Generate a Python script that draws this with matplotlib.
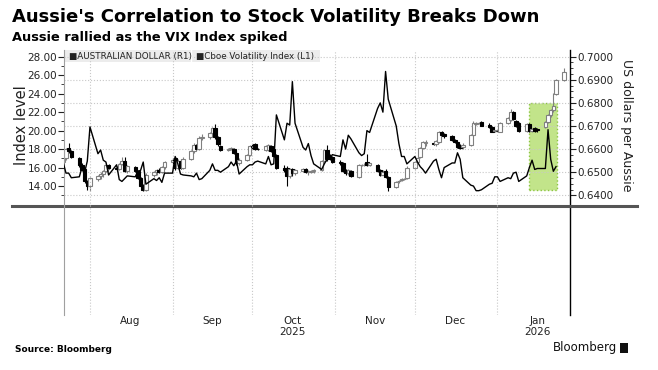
import matplotlib
matplotlib.use("Agg")
import matplotlib.pyplot as plt
import matplotlib.dates as mdates
from matplotlib.patches import Rectangle
from matplotlib.lines import Line2D
from matplotlib.ticker import FixedLocator, FuncFormatter
import pandas as pd

TITLE = "Aussie's Correlation to Stock Volatility Breaks Down"
SUBTITLE = "Aussie rallied as the VIX Index spiked"
LEFT_LABEL = "Index level"
RIGHT_LABEL = "US dollars per Aussie"
LEGEND_LABELS = ["AUSTRALIAN DOLLAR (R1)", "Cboe Volatility Index (L1)"]
MONTH_LABELS = ["Aug", "Sep", "Oct\n2025", "Nov", "Dec", "Jan\n2026"]

# trading days, AUD runs one session longer than VIX
AUD_START, AUD_END = "2025-07-22", "2026-01-26"
VIX_END = "2026-01-23"

# AUD/USD daily candles, one line per week
aud_open = [
    .6545, .6560, .6604, .6590,
    .6560, .6530, .6512, .6460, .6440,
    .6470, .6485, .6492, .6505, .6530,
    .6520, .6512, .6535, .6548, .6505,
    .6522, .6505, .6475, .6440, .6425,
    .6490, .6500, .6508, .6502, .6522,
    .6545, .6560, .6518, .6550, .6520,
    .6558, .6590, .6618, .6600, .6648,
    .6652, .6670, .6690, .6652, .6615,
    .6598, .6600, .6600, .6585, .6540,
    .6552, .6575, .6612, .6620, .6602,
    .6598, .6595, .6615, .6600, .6575,
    .6520, .6520, .6482, .6512, .6495,
    .6505, .6515, .6500, .6502, .6505,
    .6508, .6550, .6596, .6572, .6565,
    .6545, .6540, .6510, .6497, .6506,
    .6480, .6530, .6531, .6545, .6532,
    .6531, .6510, .6490, .6506, .6479,
    .6436, .6460, .6466, .6470, .6475,
    .6520, .6545, .6566, .6604, .6625,
    .6625, .6622, .6632, .6674, .6665,
    .6657, .6640, .6630, .6610, .6608,
    .6618, .6660, .6708, .6712, .6718,
    .6705, .6696, .6680,
    .6678, .6676,
    .6713, .6726, .6760, .6722, .6712,
    .6680, .6710, .6680, .6690, .6688,
    .6697, .6717, .6747, .6768, .6840,
    .6900,
]
aud_high = [
    .6565, .6605, .6625, .6596,
    .6565, .6540, .6520, .6468, .6480,
    .6490, .6500, .6510, .6540, .6535,
    .6528, .6540, .6565, .6568, .6530,
    .6528, .6510, .6480, .6450, .6495,
    .6505, .6512, .6520, .6528, .6550,
    .6560, .6565, .6558, .6556, .6565,
    .6595, .6625, .6622, .6655, .6665,
    .6675, .6695, .6708, .6658, .6618,
    .6605, .6610, .6605, .6590, .6560,
    .6580, .6618, .6620, .6625, .6606,
    .6618, .6620, .6618, .6602, .6580,
    .6530, .6525, .6518, .6520, .6515,
    .6520, .6518, .6508, .6510, .6512,
    .6555, .6600, .6618, .6580, .6570,
    .6552, .6545, .6515, .6512, .6510,
    .6535, .6536, .6538, .6578, .6542,
    .6535, .6515, .6508, .6512, .6482,
    .6462, .6468, .6474, .6476, .6525,
    .6550, .6565, .6610, .6635, .6638,
    .6630, .6640, .6680, .6680, .6670,
    .6662, .6645, .6636, .6620, .6625,
    .6665, .6720, .6718, .6716, .6722,
    .6712, .6700, .6684,
    .6682, .6716,
    .6738, .6772, .6765, .6728, .6716,
    .6714, .6714, .6692, .6694, .6692,
    .6720, .6750, .6772, .6845, .6905,
    .6952,
]
aud_low = [
    .6538, .6555, .6585, .6560,
    .6522, .6505, .6455, .6425, .6420,
    .6462, .6470, .6480, .6500, .6512,
    .6505, .6508, .6530, .6500, .6498,
    .6500, .6470, .6435, .6418, .6420,
    .6480, .6488, .6495, .6498, .6515,
    .6540, .6510, .6512, .6512, .6515,
    .6552, .6585, .6595, .6595, .6640,
    .6645, .6665, .6645, .6615, .6592,
    .6590, .6595, .6580, .6530, .6532,
    .6548, .6570, .6600, .6598, .6595,
    .6592, .6592, .6588, .6565, .6515,
    .6500, .6440, .6475, .6485, .6490,
    .6500, .6495, .6490, .6495, .6498,
    .6505, .6545, .6550, .6555, .6540,
    .6530, .6500, .6490, .6490, .6480,
    .6475, .6525, .6525, .6528, .6528,
    .6500, .6485, .6486, .6475, .6420,
    .6430, .6455, .6460, .6465, .6470,
    .6515, .6540, .6560, .6600, .6615,
    .6618, .6615, .6628, .6655, .6650,
    .6635, .6625, .6605, .6600, .6602,
    .6612, .6655, .6705, .6708, .6698,
    .6690, .6672, .6676,
    .6674, .6672,
    .6708, .6722, .6725, .6696, .6676,
    .6676, .6676, .6676, .6674, .6676,
    .6692, .6712, .6740, .6762, .6835,
    .6895,
]
aud_close = [
    .6560, .6600, .6590, .6565,
    .6530, .6510, .6462, .6440, .6475,
    .6485, .6492, .6505, .6530, .6520,
    .6512, .6535, .6548, .6505, .6525,
    .6505, .6475, .6440, .6425, .6490,
    .6500, .6508, .6502, .6522, .6545,
    .6552, .6518, .6550, .6520, .6558,
    .6590, .6618, .6600, .6648, .6652,
    .6670, .6690, .6652, .6620, .6598,
    .6600, .6603, .6585, .6540, .6552,
    .6575, .6612, .6608, .6602, .6600,
    .6615, .6618, .6592, .6570, .6520,
    .6508, .6482, .6512, .6495, .6510,
    .6515, .6500, .6502, .6505, .6508,
    .6550, .6596, .6558, .6560, .6545,
    .6538, .6506, .6497, .6508, .6485,
    .6530, .6531, .6533, .6532, .6538,
    .6506, .6490, .6503, .6480, .6436,
    .6457, .6463, .6470, .6472, .6520,
    .6545, .6560, .6604, .6630, .6632,
    .6622, .6635, .6674, .6660, .6655,
    .6640, .6630, .6610, .6605, .6618,
    .6660, .6715, .6714, .6712, .6702,
    .6694, .6676, .6680,
    .6677, .6713,
    .6735, .6760, .6730, .6700, .6680,
    .6710, .6680, .6688, .6678, .6681,
    .6717, .6747, .6769, .6785, .6900,
    .6935,
]

# Cboe VIX daily close
vix_close = [
    16.5, 15.4, 15.4, 14.9,
    15.0, 16.0, 15.5, 16.7, 20.4,
    17.5, 17.9, 16.8, 16.6, 15.2,
    16.3, 14.7, 14.5, 14.8, 15.1,
    15.0, 15.6, 15.7, 16.6, 14.2,
    14.8, 14.6, 14.9, 14.4, 15.4,
    15.4, 17.2, 16.4, 15.3, 15.2,
    15.1, 15.0, 15.4, 14.7, 14.8,
    15.7, 16.4, 15.7, 15.7, 15.5,
    16.1, 16.6, 16.2, 16.7, 15.3,
    16.1, 16.3, 16.3, 16.6, 16.7,
    16.4, 17.2, 16.3, 16.4, 21.7,
    19.0, 20.8, 20.6, 25.3, 20.8,
    18.2, 17.9, 18.6, 17.3, 16.4,
    15.8, 16.4, 16.9, 16.9, 17.4,
    17.2, 19.0, 18.0, 19.5, 19.1,
    17.6, 17.3, 17.5, 20.0, 19.8,
    22.4, 23.0, 22.0, 26.4, 23.4,
    20.5, 18.6, 17.2, 17.2, 16.4,
    17.2, 16.6, 16.1, 15.8, 15.4,
    16.7, 16.9, 15.8, 14.9, 16.0,
    16.5, 16.5, 17.6, 16.9, 14.9,
    14.1, 14.0, 13.5, 13.5, 13.6,
    14.2, 14.3, 15.0,
    15.0, 14.5,
    14.9, 14.8, 15.4, 15.5, 14.5,
    15.1, 16.0, 16.8, 15.8, 15.9,
    15.9, 20.1, 16.9, 15.6, 16.1,
]

W, H = 658, 370


def fx(px):
    return px / W


def fy(py):
    return 1 - py / H


def main():
    aud_dates = pd.bdate_range(AUD_START, AUD_END)
    vix_dates = pd.bdate_range(AUD_START, VIX_END)
    xa = mdates.date2num(aud_dates.to_pydatetime())
    xv = mdates.date2num(vix_dates.to_pydatetime())

    fig = plt.figure(figsize=(W / 100, H / 100), dpi=100)
    fig.patch.set_facecolor("white")

    ax = fig.add_axes([fx(64), fy(315), fx(570) - fx(64), fy(50) - fy(315)])
    ax2 = ax.twinx()
    ax.set_zorder(2)
    ax2.set_zorder(1)
    ax.patch.set_visible(False)

    # axis ranges chosen so 13..28 / 0.64..0.70 fill the upper panel only
    ax.set_ylim(0.045, 28.725)
    ax2.set_ylim(0.5882, 0.7029)
    x0 = mdates.date2num(pd.Timestamp("2025-07-22 06:00"))
    x1 = mdates.date2num(pd.Timestamp("2026-01-28 06:00"))
    ax.set_xlim(x0, x1)

    # highlight box behind the data
    bx0 = mdates.date2num(pd.Timestamp("2026-01-13"))
    bx1 = mdates.date2num(pd.Timestamp("2026-01-23 06:00"))
    ax2.add_patch(Rectangle((bx0, 0.6423), bx1 - bx0, 0.6800 - 0.6423,
                            facecolor="#c2e48a", edgecolor="#8cc63f",
                            linestyle=":", linewidth=1.0, zorder=0.5))

    # candles
    for x, o, hi, lo, c in zip(xa, aud_open, aud_high, aud_low, aud_close):
        up = c >= o
        col = "#808080" if up else "black"
        ax2.vlines(x, lo, hi, colors=col, linewidth=0.8, zorder=2)
        bottom = min(o, c)
        height = max(abs(c - o), 0.0002)
        ax2.add_patch(Rectangle((x - 0.65, bottom), 1.3, height,
                                facecolor="white" if up else "black",
                                edgecolor=col, linewidth=0.8, zorder=3))

    ax.plot(xv, vix_close, color="black", linewidth=1.0, zorder=4)

    # grids
    ax.xaxis.set_major_locator(mdates.MonthLocator())
    ax.xaxis.set_major_formatter(FuncFormatter(lambda v, p: ""))
    ax.xaxis.set_minor_locator(mdates.MonthLocator(bymonthday=16))
    ax.xaxis.set_minor_formatter(
        FuncFormatter(lambda v, p: MONTH_LABELS[(mdates.num2date(v).month - 8) % 12]))
    ax.grid(axis="x", which="major", color="#c8c8c8", linestyle=":", linewidth=0.8)
    ax.tick_params(axis="x", which="both", length=0, pad=1, labelsize=7.5,
                   colors="#222222")
    for lab in ax.get_xticklabels(minor=True):
        lab.set_linespacing(1.1)

    ax2.yaxis.set_major_locator(FixedLocator([0.64, 0.65, 0.66, 0.67, 0.68, 0.69, 0.70]))
    ax2.yaxis.set_minor_locator(FixedLocator([0.6425 + 0.0025 * i for i in range(24)]))
    ax2.yaxis.set_major_formatter(FuncFormatter(lambda v, p: f"{v:.4f}"))
    ax2.grid(axis="y", which="major", color="#c8c8c8", linestyle=":", linewidth=0.8)
    ax2.tick_params(axis="y", which="major", length=4, width=0.8, pad=1,
                    labelsize=7.5, colors="#222222")
    ax2.tick_params(axis="y", which="minor", length=2, width=0.6, colors="#222222")

    ax.yaxis.set_major_locator(FixedLocator(list(range(14, 29, 2))))
    ax.yaxis.set_minor_locator(FixedLocator(list(range(13, 28, 2))))
    ax.yaxis.set_major_formatter(FuncFormatter(lambda v, p: f"{v:.2f}"))
    ax.tick_params(axis="y", which="major", length=4, width=0.8, pad=1,
                   labelsize=7.5, colors="#222222")
    ax.tick_params(axis="y", which="minor", length=2, width=0.6, colors="#222222")

    for a in (ax, ax2):
        a.spines["top"].set_visible(False)
        a.spines["bottom"].set_visible(False)
    ax.spines["right"].set_visible(False)
    ax.spines["left"].set_color("#a0a0a0")
    ax.spines["left"].set_linewidth(0.8)
    ax2.spines["left"].set_visible(False)
    ax2.spines["right"].set_color("black")
    ax2.spines["right"].set_linewidth(1.0)

    # separator under the upper panel
    fig.add_artist(Line2D([fx(12), fx(637)], [fy(206), fy(206)],
                          color="#555555", linewidth=2.2))

    # legend strip
    fig.add_artist(Rectangle((fx(65), fy(62)), fx(320) - fx(65), fy(50) - fy(62),
                             facecolor="#ececec", edgecolor="none"))
    fig.add_artist(Line2D([fx(191), fx(191)], [fy(62), fy(50)],
                          color="white", linewidth=1.0))
    fig.text(fx(69), fy(56.5), "\u25a0" + LEGEND_LABELS[0], fontsize=6.3,
             va="center", ha="left", color="#222222")
    fig.text(fx(196), fy(56.5), "\u25a0" + LEGEND_LABELS[1], fontsize=6.3,
             va="center", ha="left", color="#222222")

    # titles and labels
    fig.text(fx(12), fy(17), TITLE, fontsize=13, fontweight="bold",
             va="center", ha="left")
    fig.text(fx(12), fy(38), SUBTITLE, fontsize=9.4, fontweight="bold",
             va="center", ha="left")
    fig.text(fx(22), fy(125), LEFT_LABEL, fontsize=10.5, rotation=90,
             va="center", ha="center", color="#222222")
    fig.text(fx(627), fy(125), RIGHT_LABEL, fontsize=9, rotation=-90,
             va="center", ha="center", color="#222222")

    fig.text(fx(15), fy(349), "Source: Bloomberg", fontsize=6.5,
             fontweight="bold", va="center", ha="left")
    fig.text(fx(617), fy(348), "Bloomberg", fontsize=8.5, va="center",
             ha="right", color="#111111")
    fig.add_artist(Rectangle((fx(620), fy(353)), fx(628) - fx(620), fy(343) - fy(353),
                             facecolor="#111111", edgecolor="none"))

    fig.savefig("out.png", dpi=100)


if __name__ == "__main__":
    main()
